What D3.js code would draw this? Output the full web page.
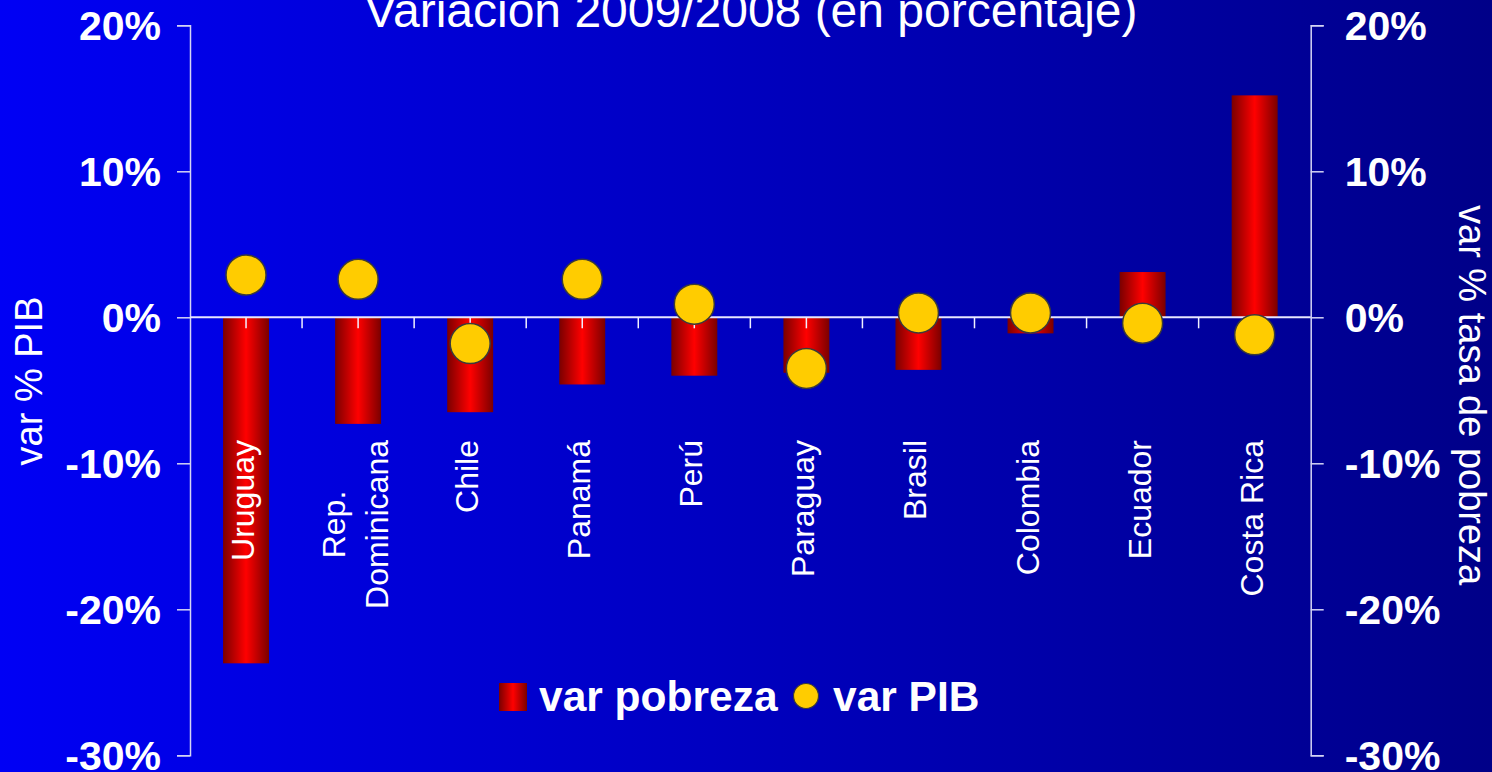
<!DOCTYPE html>
<html>
<head>
<meta charset="utf-8">
<script src="https://cdn.jsdelivr.net/npm/d3@7"></script>
<style>
  html, body { margin: 0; padding: 0; background: #0000c0; overflow: hidden; }
  svg { display: block; font-family: "Liberation Sans", Arial, sans-serif; }
</style>
</head>
<body>
<div id="chart"></div>
<script>
// data
const categories = ["Uruguay", "Rep.\nDominicana", "Chile", "Panamá", "Perú", "Paraguay", "Brasil", "Colombia", "Ecuador", "Costa Rica"];
const varPobreza = [-23.7, -7.3, -6.5, -4.6, -4.0, -3.8, -3.6, -1.1, 3.1, 15.2];
const varPIB = [2.9, 2.6, -1.8, 2.6, 0.9, -3.5, 0.3, 0.3, -0.4, -1.2];
const yTicks = [-30, -20, -10, 0, 10, 20];
const seriesNames = ["var pobreza", "var PIB"];

const W = 1492, H = 772;
const PLOT = { LEFT: 190, RIGHT: 1310.7, TOP: 25.3, BOTTOM: 755.3 };
const LABEL_TOP = 440;

const svg = d3.select("#chart")
  .append("svg")
    .attr("width", W)
    .attr("height", H);

const defs = svg.append("defs");

const bg = defs.append("linearGradient").attr("id", "bg")
  .attr("x1", "0%").attr("x2", "100%").attr("y1", "0%").attr("y2", "0%");
bg.append("stop").attr("offset", "0%").attr("stop-color", "#0000f5");
bg.append("stop").attr("offset", "100%").attr("stop-color", "#000088");

const barGrad = defs.append("linearGradient").attr("id", "bar")
  .attr("x1", "0%").attr("x2", "100%").attr("y1", "0%").attr("y2", "0%");
barGrad.append("stop").attr("offset", "0%").attr("stop-color", "#7a0000");
barGrad.append("stop").attr("offset", "50%").attr("stop-color", "#ff0000");
barGrad.append("stop").attr("offset", "100%").attr("stop-color", "#7a0000");

svg.append("rect").attr("width", W).attr("height", H).attr("fill", "url(#bg)");

const y = d3.scaleLinear()
  .domain([-30, 20])
  .range([PLOT.BOTTOM, PLOT.TOP]);

const x = d3.scaleBand()
  .domain(categories)
  .range([PLOT.LEFT, PLOT.RIGHT])
  .paddingInner(0.59)
  .paddingOuter(0.295);

const fmt = d => d + "%";
const axisColor = "#d4d4f4";

// left axis
const yLeft = svg.append("g")
  .attr("transform", `translate(${PLOT.LEFT},0)`)
  .call(d3.axisLeft(y).tickValues(yTicks).tickSize(13).tickSizeOuter(13).tickFormat(fmt).tickPadding(16));

// right axis
const yRight = svg.append("g")
  .attr("transform", `translate(${PLOT.RIGHT},0)`)
  .call(d3.axisRight(y).tickValues(yTicks).tickSize(13).tickSizeOuter(13).tickFormat(fmt).tickPadding(21));

[yLeft, yRight].forEach(g => {
  g.select(".domain").attr("stroke", axisColor).attr("stroke-width", 1.5);
  g.selectAll(".tick line").attr("stroke", axisColor).attr("stroke-width", 1.5);
  g.selectAll(".tick text")
    .attr("fill", "#fff")
    .attr("font-size", 41)
    .attr("font-weight", "bold")
    .attr("dy", "0.34em");
});

// bars
svg.append("g").selectAll("rect")
  .data(categories)
  .join("rect")
    .attr("x", d => x(d))
    .attr("width", x.bandwidth())
    .attr("y", (d, i) => y(Math.max(0, varPobreza[i])))
    .attr("height", (d, i) => Math.abs(y(varPobreza[i]) - y(0)))
    .attr("fill", "url(#bar)");

// zero line with category ticks
const zero = svg.append("g");
zero.append("line")
  .attr("x1", PLOT.LEFT).attr("x2", PLOT.RIGHT)
  .attr("y1", y(0)).attr("y2", y(0))
  .attr("stroke", "#e6e6ff").attr("stroke-width", 2);

const step = x.step();
const tickXs = [];
categories.forEach((c, i) => {
  const cx = x(c) + x.bandwidth() / 2;
  tickXs.push(cx);
  if (i > 0) tickXs.push(cx - step / 2);
});
zero.selectAll("line.tk")
  .data(tickXs)
  .join("line")
    .attr("class", "tk")
    .attr("x1", d => d).attr("x2", d => d)
    .attr("y1", y(0)).attr("y2", y(0) + 11)
    .attr("stroke", "#f0f0ff").attr("stroke-width", 1.5);

// category labels, rotated
const labels = svg.append("g").selectAll("g")
  .data(categories)
  .join("g")
    .attr("transform", d => `translate(${x(d) + x.bandwidth() / 2},${LABEL_TOP}) rotate(-90)`);

labels.each(function(d) {
  const g = d3.select(this);
  const lines = d.split("\n");
  const t = g.append("text")
    .attr("fill", "#fff")
    .attr("font-size", 32);
  if (lines.length === 1) {
    t.attr("text-anchor", "end").attr("x", 0).attr("y", 8).text(d);
  } else {
    const spans = lines.map((l, k) => t.append("tspan")
      .attr("y", 8 + (k - (lines.length - 1) / 2) * 43)
      .text(l));
    const maxLen = d3.max(spans, s => s.node().getComputedTextLength());
    t.attr("text-anchor", "middle");
    spans.forEach(s => s.attr("x", -maxLen / 2));
  }
});

// dots
svg.append("g").selectAll("circle")
  .data(categories)
  .join("circle")
    .attr("cx", d => x(d) + x.bandwidth() / 2)
    .attr("cy", (d, i) => y(varPIB[i]))
    .attr("r", 20)
    .attr("fill", "#ffcc00")
    .attr("stroke", "#3a3a3a")
    .attr("stroke-width", 1.5);

// title
svg.append("text")
  .attr("x", 751)
  .attr("y", 27)
  .attr("text-anchor", "middle")
  .attr("fill", "#fff")
  .attr("font-size", 48)
  .text("Variación 2009/2008 (en porcentaje)");

// axis titles
svg.append("text")
  .attr("transform", "translate(42,381) rotate(-90)")
  .attr("text-anchor", "middle")
  .attr("fill", "#fff")
  .attr("font-size", 38)
  .text("var % PIB");

svg.append("text")
  .attr("transform", "translate(1459,205) rotate(90)")
  .attr("text-anchor", "start")
  .attr("fill", "#fff")
  .attr("font-size", 38)
  .text("var % tasa de pobreza");

// legend
const legend = svg.append("g");
legend.append("rect")
  .attr("x", 499).attr("y", 683)
  .attr("width", 28).attr("height", 28)
  .attr("fill", "url(#bar)");
legend.append("text")
  .attr("x", 539).attr("y", 711)
  .attr("fill", "#fff").attr("font-size", 42.5).attr("font-weight", "bold")
  .text(seriesNames[0]);
legend.append("circle")
  .attr("cx", 806).attr("cy", 696).attr("r", 12.5)
  .attr("fill", "#ffcc00").attr("stroke", "#3a3a3a").attr("stroke-width", 1.2);
legend.append("text")
  .attr("x", 833).attr("y", 711)
  .attr("fill", "#fff").attr("font-size", 42.5).attr("font-weight", "bold")
  .text(seriesNames[1]);
</script>
</body>
</html>
